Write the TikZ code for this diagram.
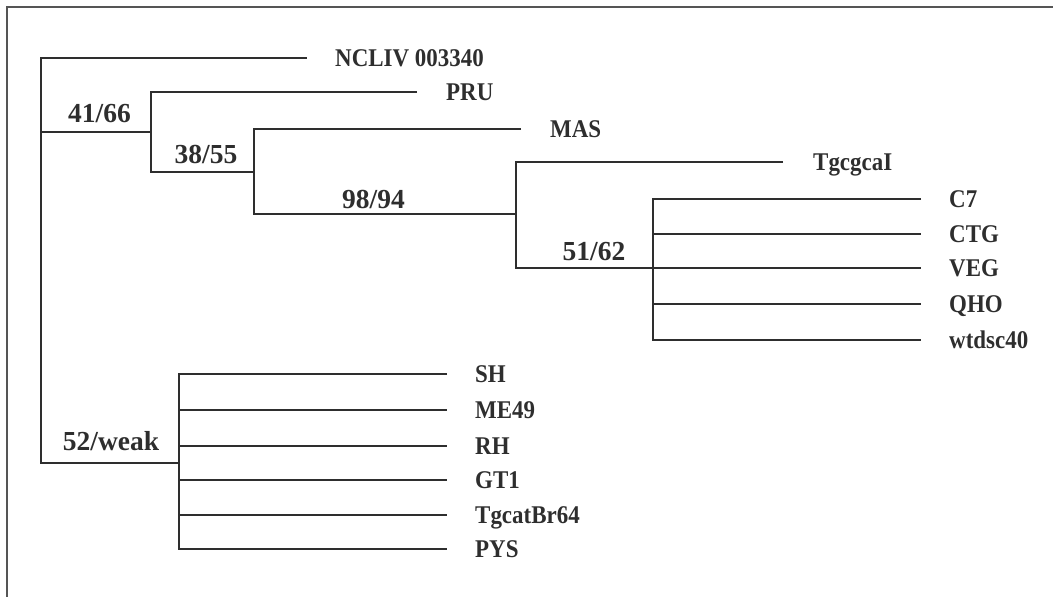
\documentclass[tikz,border=0pt]{standalone}
\usepackage{fontspec}
\setmainfont{Liberation Serif}
\newfontfamily\taxfont[FakeStretch=0.9]{Liberation Serif}
\definecolor{ink}{HTML}{2E2E2E}
\definecolor{framecol}{HTML}{555555}
\begin{document}
\begin{tikzpicture}[x=1pt,y=-1pt,
  branch/.style={draw=ink, line width=2.8pt, line join=miter},
  taxon/.style={anchor=west, inner sep=0pt, text height=17pt, text depth=0pt, text=ink,
    font=\taxfont\bfseries\fontsize{25.5}{25.5}\selectfont},
  support/.style={anchor=base, inner sep=0pt, text=ink,
    font=\bfseries\fontsize{27.5}{27.5}\selectfont}]
\useasboundingbox (0,0) rectangle (1053,597);
\draw[framecol, line width=1.6pt] (7,600) -- (7,7) -- (1056,7);

% internal nodes
\coordinate (root) at (41,132);
\coordinate (n1) at (151,132);
\coordinate (n2) at (254,172);
\coordinate (n3) at (516,214);
\coordinate (n4) at (653,268);
\coordinate (nLow) at (179,463);

% leaf branch ends
\coordinate (eNC) at (307,58);
\coordinate (ePRU) at (417,92);
\coordinate (eMAS) at (521,129);
\coordinate (eTg) at (783,162);
\coordinate (eC7) at (921,199);
\coordinate (eCTG) at (921,234);
\coordinate (eVEG) at (921,268);
\coordinate (eQHO) at (921,304);
\coordinate (eWT) at (921,340);
\coordinate (eSH) at (447,374);
\coordinate (eME) at (447,410);
\coordinate (eRH) at (447,446);
\coordinate (eGT) at (447,480);
\coordinate (eBR) at (447,515);
\coordinate (ePYS) at (447,549);

% leaf labels
\node[taxon] (tNC) at (335,58) {NCLIV 003340};
\node[taxon] (tPRU) at (446,92) {PRU};
\node[taxon] (tMAS) at (550,129) {MAS};
\node[taxon] (tTg) at (813,162) {TgcgcaI};
\node[taxon] (tC7) at (949,199) {C7};
\node[taxon] (tCTG) at (949,234) {CTG};
\node[taxon] (tVEG) at (949,268) {VEG};
\node[taxon] (tQHO) at (949,304) {QHO};
\node[taxon] (tWT) at (949,340) {wtdsc40};
\node[taxon] (tSH) at (475,374) {SH};
\node[taxon] (tME) at (475,410) {ME49};
\node[taxon] (tRH) at (475,446) {RH};
\node[taxon] (tGT) at (475,480) {GT1};
\node[taxon] (tBR) at (475,515) {TgcatBr64};
\node[taxon] (tPYS) at (475,549) {PYS};

% support values
\node[support] (s1) at (99.5,122) {41/66};
\node[support] (s2) at (206,163) {38/55};
\node[support] (s3) at (373.5,208) {98/94};
\node[support] (s4) at (594,260) {51/62};
\node[support] (s5) at (111,450) {52/weak};

% branches
\draw[branch] (nLow) -| (root) |- (eNC);
\draw[branch] (root) -- (n1);
\draw[branch] (ePRU) -| (n1) |- (n2);
\draw[branch] (eMAS) -| (n2) |- (n3);
\draw[branch] (eTg) -| (n3) |- (n4);
\draw[branch] (eC7) -| (n4) |- (eWT);
\draw[branch] (n4) -- (eVEG);
\draw[branch] (eCTG -| n4) -- (eCTG);
\draw[branch] (eQHO -| n4) -- (eQHO);
\draw[branch] (eSH) -| (nLow) |- (ePYS);
\draw[branch] (eME -| nLow) -- (eME);
\draw[branch] (eRH -| nLow) -- (eRH);
\draw[branch] (eGT -| nLow) -- (eGT);
\draw[branch] (eBR -| nLow) -- (eBR);
\end{tikzpicture}
\end{document}
